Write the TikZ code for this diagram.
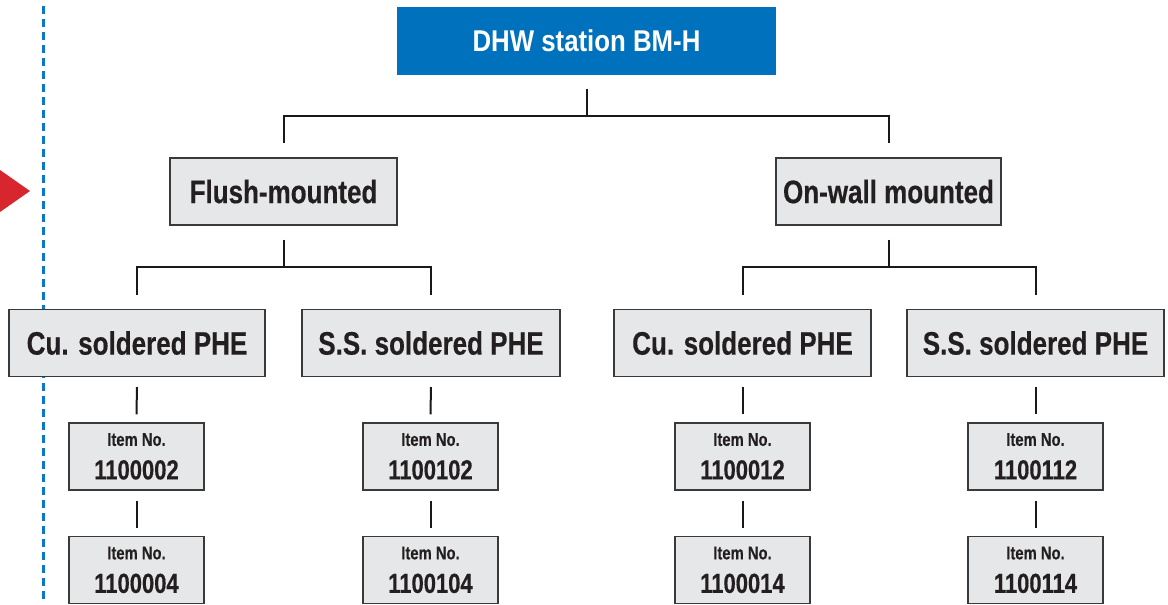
\documentclass[tikz,border=0pt]{standalone}
\usepackage{fontspec}
\newfontface\headf[FakeStretch=0.86]{Liberation Sans Bold}
\newfontface\condf[FakeStretch=0.80,FakeBold=0.4]{Liberation Sans Bold}
\definecolor{dhwblue}{HTML}{0071BC}
\definecolor{dashblue}{HTML}{0A78C8}
\definecolor{boxgray}{HTML}{E6E7E8}
\definecolor{boxline}{HTML}{3A3A3A}
\definecolor{txt}{HTML}{231F20}
\definecolor{arrred}{HTML}{D8262E}
\tikzset{
  headbox/.style={fill=dhwblue, draw=none, minimum width=379pt, minimum height=68pt, inner sep=0pt,
    text=white, font=\headf\fontsize{30}{32}\selectfont},
  midbox/.style={fill=boxgray, draw=boxline, line width=1.3pt, minimum height=67pt, inner sep=0pt,
    text=txt, font=\condf\fontsize{32.5}{34}\selectfont},
  itembox/.style={fill=boxgray, draw=boxline, line width=1.3pt, minimum width=135pt, minimum height=67pt, inner sep=0pt},
  itemlbl/.style={text=txt, font=\condf\fontsize{18.5}{20}\selectfont, inner sep=0pt, anchor=base},
  itemnum/.style={text=txt, font=\condf\fontsize{27.5}{29}\selectfont, inner sep=0pt, anchor=base},
  conn/.style={draw=black!90, line width=2pt},
  iconn/.style={draw=black!90, line width=2pt, shorten <=10pt, shorten >=8pt}
}
\begin{document}
\begin{tikzpicture}[x=1pt,y=-1pt]
\useasboundingbox (0,0) rectangle (1168,605);
% left marker
\coordinate (dtop) at (43,6);
\coordinate (dbot) at (43,603);
\draw[dashblue, line width=3pt, dash pattern=on 8pt off 5pt] (dtop) -- (dbot);
\fill[arrred] (0,170) -- (30,191) -- (0,212) -- cycle;
% boxes
\node[headbox] (dhw) at (586.5,40.5) {DHW station BM-H};
\node[midbox, minimum width=227pt] (flush) at (283.5,191.5) {Flush-mounted};
\node[midbox, minimum width=225pt] (onwall) at (888.5,191.5) {On-wall mounted};
\node[midbox, minimum width=256pt] (cuL) at (137,343) {Cu. soldered PHE};
\node[midbox, minimum width=258pt] (ssL) at (431,343) {S.S. soldered PHE};
\node[midbox, minimum width=257pt] (cuR) at (742.5,343) {Cu. soldered PHE};
\node[midbox, minimum width=257pt] (ssR) at (1035.5,343) {S.S. soldered PHE};
% item boxes
\foreach \n/\x/\y/\num in {a1/136.5/456.5/1100002, a2/136.5/570/1100004,
                           b1/430.5/456.5/1100102, b2/430.5/570/1100104,
                           c1/742.5/456.5/1100012, c2/742.5/570/1100014,
                           d1/1035.5/456.5/1100112, d2/1035.5/570/1100114}{
  \node[itembox] (\n) at (\x,\y) {};
  \node[itemlbl] (\n l) at ([yshift=-23.5pt]\n.north) {Item No.};
  \node[itemnum] (\n n) at ([yshift=-57pt]\n.north) {\num};
}
% top level connectors
\coordinate (j0) at (586,116);
\draw[conn] ([yshift=-14pt]dhw.south) -- (dhw.south |- j0);
\draw[conn] ([yshift=14pt]flush.north) -- (flush.north |- j0) -- (onwall.north |- j0) -- ([yshift=14pt]onwall.north);
% second level
\coordinate (j1) at (283.5,267);
\draw[conn] ([yshift=-14pt]flush.south) -- (flush.south |- j1);
\draw[conn] ([yshift=14pt]cuL.north) -- (cuL.north |- j1) -- (ssL.north |- j1) -- ([yshift=14pt]ssL.north);
\draw[conn] ([yshift=-14pt]onwall.south) -- (onwall.south |- j1);
\draw[conn] ([yshift=14pt]cuR.north) -- (cuR.north |- j1) -- (ssR.north |- j1) -- ([yshift=14pt]ssR.north);
% item connectors
\draw[iconn] (cuL.south) -- (a1.north);
\draw[iconn] (a1.south) -- (a2.north);
\draw[iconn] (ssL.south) -- (b1.north);
\draw[iconn] (b1.south) -- (b2.north);
\draw[iconn] (cuR.south) -- (c1.north);
\draw[iconn] (c1.south) -- (c2.north);
\draw[iconn] (ssR.south) -- (d1.north);
\draw[iconn] (d1.south) -- (d2.north);
\end{tikzpicture}
\end{document}
